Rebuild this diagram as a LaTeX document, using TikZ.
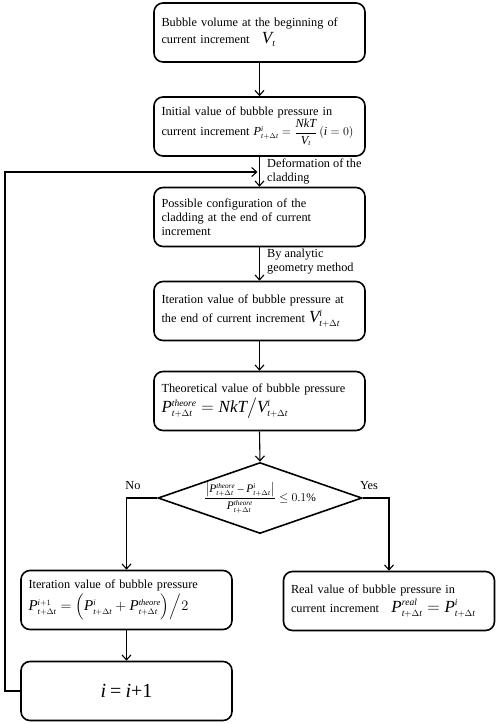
\documentclass[tikz,border=0pt]{standalone}
\usepackage{amsmath}
\usepackage{fontspec}
\setmainfont{Liberation Serif}
\usepackage[italic]{mathastext}
\DeclareMathSizes{17}{17}{9.5}{7}
\DeclareMathSizes{15}{15}{8.5}{6.5}
\DeclareMathSizes{12.3}{12.3}{7.5}{6}
\DeclareMathSizes{11.5}{11.5}{7.2}{5.5}
\usetikzlibrary{shapes.geometric,arrows.meta,calc}
\tikzset{
  box/.style={draw, line width=1.6pt, rounded corners=9pt, minimum width=211pt, minimum height=59pt,
     text width=196pt, align=left, inner xsep=7.5pt, font=\fontsize{12.3}{14}\selectfont},
  lbl/.style={inner sep=0pt, align=left, font=\fontsize{12.3}{14}\selectfont},
  arr/.style={line width=1.1pt, -{Straight Barb[length=5pt,width=9pt,line width=1.1pt]}},
  dia/.style={draw, diamond, line width=1.6pt, minimum width=204pt, minimum height=71pt, inner sep=0pt, aspect=2.87}
}
\newcommand{\mysz}{\fontsize{17}{20}\selectfont}
\newcommand{\mysm}{\fontsize{15}{18}\selectfont}
\begin{document}
\begin{tikzpicture}[x=1pt,y=-1pt]
\useasboundingbox (0,0) rectangle (498,724);
\node[box] (b1) at (259.5,32.5) {Bubble volume at the beginning of\\[3pt] current increment\quad {\mysz $V_t$}};
\node[box] (b2) at (259.5,126.5) {Initial value of bubble pressure in\\ current increment $P^{i}_{t+\Delta t}=\dfrac{NkT}{V_t}\,(i=0)$};
\node[box] (b3) at (259.5,217) {Possible configuration of the\\ cladding at the end of current\\ increment};
\node[box] (b4) at (259.5,311) {Iteration value of bubble pressure at\\[3pt] the end of current increment {\mysz $V^{i}_{t+\Delta t}$}};
\node[box] (b5) at (259.5,401) {Theoretical value of bubble pressure\\[2pt] {\mysz $P^{theore}_{t+\Delta t}=NkT\big/V^{i}_{t+\Delta t}$}};
\node[dia] (d) at (260,498) {\fontsize{11.5}{13}\selectfont $\dfrac{\left|P^{theore}_{t+\Delta t}-P^{i}_{t+\Delta t}\right|}{P^{theore}_{t+\Delta t}}\le 0.1\%$};
\node[box] (b6) at (126.5,600) {Iteration value of bubble pressure\\[2pt] {\mysm $P^{i+1}_{t+\Delta t}=\Bigl(P^{i}_{t+\Delta t}+P^{theore}_{t+\Delta t}\Bigr)\Big/2$}};
\node[box, align=center] (b7) at (126.5,691) {\fontsize{20}{24}\selectfont \textit{i} = \textit{i}+1};
\node[box] (b8) at (389,601) {Real value of bubble pressure in\\[2pt] current increment\quad {\mysz $P^{real}_{t+\Delta t}=P^{i}_{t+\Delta t}$}};
\node[lbl, anchor=north west] (l1) at (267,159) {Deformation of the\\ cladding};
\node[lbl, anchor=north west] (l2) at (267,249) {By analytic\\ geometry method};
\node[lbl] (no) at (133,486) {No};
\node[lbl] (yes) at (369,486) {Yes};
\coordinate (fb) at (5,172);
\draw[arr] (b1.south) -- (b2.north);
\draw[arr] (b2.south) -- (b3.north);
\draw[arr] (b3.south) -- (b4.north);
\draw[arr] (b4.south) -- (b5.north);
\draw[arr] (b5.south) -- (d.north);
\draw[arr] (d.west) -| (b6.north);
\draw[arr] (d.east) -| (b8.north);
\draw[arr] (b6.south) -- (b7.north);
\draw[arr] (b7.west) -| (fb) -- ($(fb -| b2.south)+(-2,0)$);
\end{tikzpicture}
\end{document}
